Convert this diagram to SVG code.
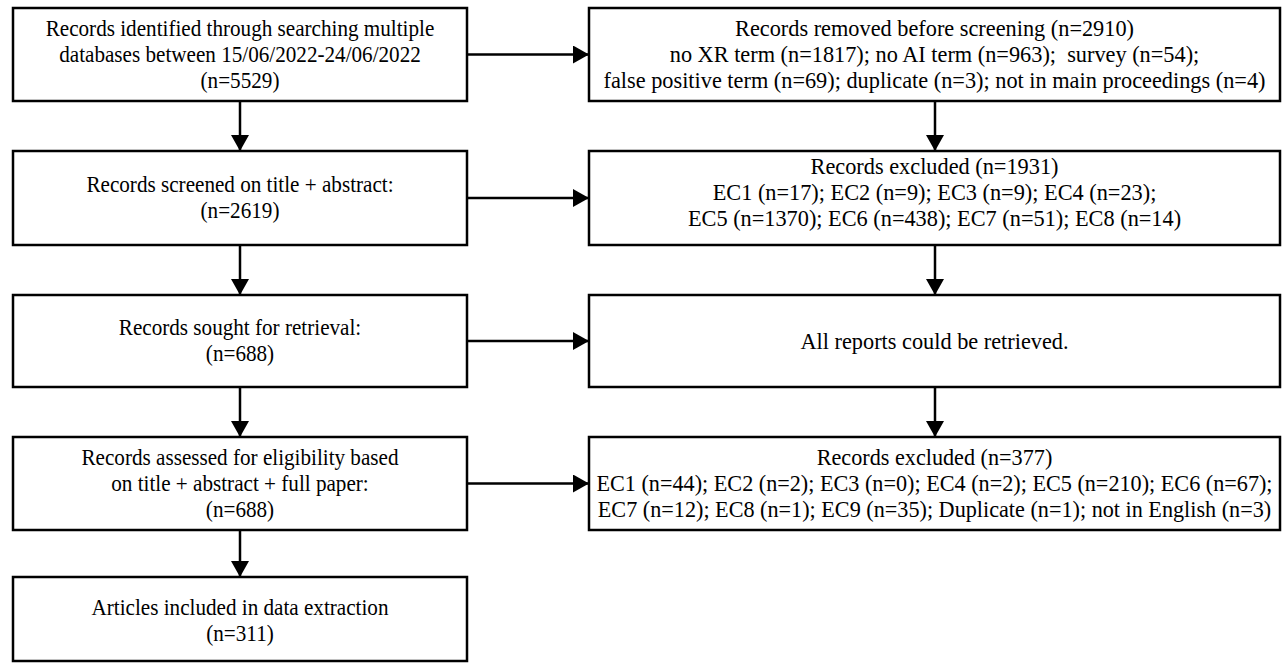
<svg xmlns="http://www.w3.org/2000/svg" width="1282" height="668" viewBox="0 0 1282 668">
<defs>
<style>
.box{fill:#fff;stroke:#000;stroke-width:2.5}
.t{font-family:"Liberation Serif","Times New Roman",serif;fill:#000;text-anchor:middle}
.l{font-size:23.5px}
.r{font-size:24px}
.c{stroke:#000;stroke-width:2.5;fill:none;marker-end:url(#ah)}
</style>
<marker id="ah" markerUnits="userSpaceOnUse" markerWidth="17" markerHeight="18" refX="16" refY="9" orient="auto">
<path d="M0,0 L16,9 L0,18 Z" fill="#000"/>
</marker>
</defs>
<rect width="1282" height="668" fill="#fff"/>
<g id="n1">
<rect class="box" x="13" y="8" width="454" height="93"/>
<g transform="translate(240 0) scale(0.9 1)">
<text class="t l" x="0" y="36">Records identified through searching multiple</text>
<text class="t l" x="0" y="62">databases between 15/06/2022-24/06/2022</text>
<text class="t l" x="0" y="88">(n=5529)</text>
</g>
</g>
<g id="n2">
<rect class="box" x="589" y="8" width="691" height="93"/>
<g transform="translate(934.500 0) scale(0.93 1)">
<text class="t r" x="0" y="36">Records removed before screening (n=2910)</text>
<text class="t r" x="0" y="62" xml:space="preserve">no XR term (n=1817); no AI term (n=963);  survey (n=54);</text>
<text class="t r" x="0" y="88">false positive term (n=69); duplicate (n=3); not in main proceedings (n=4)</text>
</g>
</g>
<g id="n3">
<rect class="box" x="13" y="151" width="454" height="94"/>
<g transform="translate(240 0) scale(0.9 1)">
<text class="t l" x="0" y="192">Records screened on title + abstract:</text>
<text class="t l" x="0" y="218">(n=2619)</text>
</g>
</g>
<g id="n4">
<rect class="box" x="589" y="151" width="691" height="94"/>
<g transform="translate(934.500 0) scale(0.93 1)">
<text class="t r" x="0" y="174">Records excluded (n=1931)</text>
<text class="t r" x="0" y="200">EC1 (n=17); EC2 (n=9); EC3 (n=9); EC4 (n=23);</text>
<text class="t r" x="0" y="226">EC5 (n=1370); EC6 (n=438); EC7 (n=51); EC8 (n=14)</text>
</g>
</g>
<g id="n5">
<rect class="box" x="13" y="295" width="454" height="92"/>
<g transform="translate(240 0) scale(0.9 1)">
<text class="t l" x="0" y="335">Records sought for retrieval:</text>
<text class="t l" x="0" y="361">(n=688)</text>
</g>
</g>
<g id="n6">
<rect class="box" x="589" y="295" width="691" height="92"/>
<g transform="translate(934.500 0) scale(0.93 1)">
<text class="t r" x="0" y="349">All reports could be retrieved.</text>
</g>
</g>
<g id="n7">
<rect class="box" x="13" y="437" width="454" height="93"/>
<g transform="translate(240 0) scale(0.9 1)">
<text class="t l" x="0" y="465">Records assessed for eligibility based</text>
<text class="t l" x="0" y="491">on title + abstract + full paper:</text>
<text class="t l" x="0" y="517">(n=688)</text>
</g>
</g>
<g id="n8">
<rect class="box" x="589" y="437" width="691" height="93"/>
<g transform="translate(934.500 0) scale(0.925 1)">
<text class="t r" x="0" y="465">Records excluded (n=377)</text>
<text class="t r" x="0" y="491">EC1 (n=44); EC2 (n=2); EC3 (n=0); EC4 (n=2); EC5 (n=210); EC6 (n=67);</text>
<text class="t r" x="0" y="517">EC7 (n=12); EC8 (n=1); EC9 (n=35); Duplicate (n=1); not in English (n=3)</text>
</g>
</g>
<g id="n9">
<rect class="box" x="13" y="577" width="454" height="84"/>
<g transform="translate(240 0) scale(0.9 1)">
<text class="t l" x="0" y="615">Articles included in data extraction</text>
<text class="t l" x="0" y="641">(n=311)</text>
</g>
</g>
<g id="connectors">
<line class="c" x1="467" y1="54.5" x2="589" y2="54.5"/>
<line class="c" x1="467" y1="198" x2="589" y2="198"/>
<line class="c" x1="467" y1="341" x2="589" y2="341"/>
<line class="c" x1="467" y1="483.500" x2="589" y2="483.500"/>
<line class="c" x1="240" y1="101" x2="240" y2="151"/>
<line class="c" x1="240" y1="245" x2="240" y2="295"/>
<line class="c" x1="240" y1="387" x2="240" y2="437"/>
<line class="c" x1="240" y1="530" x2="240" y2="577"/>
<line class="c" x1="935" y1="101" x2="935" y2="151"/>
<line class="c" x1="935" y1="245" x2="935" y2="295"/>
<line class="c" x1="935" y1="387" x2="935" y2="437"/>
</g>
</svg>
